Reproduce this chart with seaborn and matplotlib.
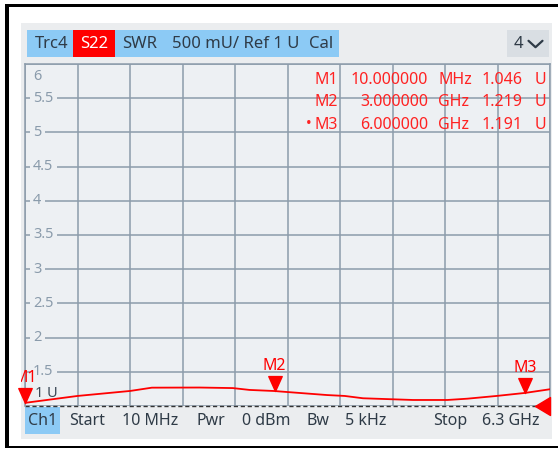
import matplotlib.pyplot as plt
import seaborn as sns
from matplotlib.patches import Rectangle
from matplotlib.path import Path

# trace S22 (SWR)
freq_ghz = [0.01, 0.64, 1.27, 1.53, 2.10, 2.50, 2.70, 3.00, 3.07, 3.63, 3.84,
            4.06, 4.66, 5.07, 5.31, 5.66, 6.00, 6.30]
swr = [1.046, 1.147, 1.22, 1.268, 1.27, 1.262, 1.235, 1.219, 1.212, 1.16, 1.147,
       1.113, 1.088, 1.088, 1.107, 1.147, 1.191, 1.245]

marker_names = ["M1", "M2", "M3"]
marker_freq = [0.01, 3.0, 6.0]
marker_swr = [1.046, 1.219, 1.191]
marker_freq_text = ["10.000000", "3.000000", "6.000000"]
marker_unit = ["MHz", "GHz", "GHz"]
marker_swr_text = ["1.046", "1.219", "1.191"]

y_ticks = [1.5, 2, 2.5, 3, 3.5, 4, 4.5, 5, 5.5]
y_tick_labels = ["1.5", "2", "2.5", "3", "3.5", "4", "4.5", "5", "5.5"]
x_start, x_stop = 0.01, 6.3
ref_level, top_level = 1.0, 6.0

header_items = [("Trc4", 35), ("SWR", 122), ("500 mU/ Ref 1 U", 172), ("Cal", 309)]
footer_items = [("Start", 69), ("10 MHz", 122), ("Pwr", 197), ("0 dBm", 242),
                ("Bw", 307), ("5 kHz", 345), ("Stop", 433), ("6.3 GHz", 482)]

RED = "#ff0000"
TXT = "#2f3b47"
GRID = "#8c9cab"
BLUE = "#8ccaf5"
PLOT_BG = "#edf0f3"
PANEL_BG = "#ebedef"

sns.set_theme(style="white")
plt.rcParams["font.family"] = ["Noto Sans", "DejaVu Sans"]

W, H = 558, 449
fig = plt.figure(figsize=(W / 100, H / 100), dpi=100)


def px_rect(left, top, right, bottom):
    return [left / W, 1 - bottom / H, (right - left) / W, (bottom - top) / H]


# background layer in pixel coordinates
bg = fig.add_axes([0, 0, 1, 1], zorder=0)
bg.set_xlim(0, W)
bg.set_ylim(H, 0)
bg.axis("off")
bg.add_patch(Rectangle((0, 0), W, H, fc="white", ec="none"))
bg.add_patch(Rectangle((5, 4), W - 5, 2.7, fc="black", ec="none"))
bg.add_patch(Rectangle((5, 4), 4, 444, fc="black", ec="none"))
bg.add_patch(Rectangle((5, 445.5), W - 5, 2.7, fc="black", ec="none"))
panel = Rectangle((21, 23), 531, 416, fc=PANEL_BG, ec="none")
bg.add_patch(panel)

# header bar
bg.add_patch(Rectangle((27, 30), 312, 27, fc=BLUE, ec="none"))
bg.add_patch(Rectangle((73, 30), 41.5, 27, fc=RED, ec="none"))
bg.add_patch(Rectangle((507, 30), 42, 27, fc="#d9dee3", ec="none"))
bg.add_patch(Rectangle((25, 407), 35, 27, fc=BLUE, ec="none"))

# diagram
ax = fig.add_axes(px_rect(25, 64, 550, 406), zorder=1)
ax.set_facecolor(PLOT_BG)
sns.lineplot(x=freq_ghz, y=swr, ax=ax, color=RED, lw=1.3, zorder=3)
ax.set_xlim(x_start, x_stop)
ax.set_ylim(ref_level, top_level)
ax.set_xticks([x_start + i * (x_stop - x_start) / 10 for i in range(11)])
ax.set_yticks([ref_level] + y_ticks + [top_level])
ax.tick_params(length=0, labelbottom=False, labelleft=False)
ax.grid(True, color=GRID, lw=1.1)
for side in ["top", "left", "right"]:
    ax.spines[side].set_color(GRID)
    ax.spines[side].set_linewidth(1.1)
ax.spines["bottom"].set_visible(False)
ax.axhline(ref_level, color="#333333", lw=1.0, ls=(0, (3, 2)), zorder=2, clip_on=False)

for v, lab in zip(y_ticks, y_tick_labels):
    ax.text(0.0155, v, lab, transform=ax.get_yaxis_transform(), fontsize=10.5,
            color="#8a9bab", va="center", ha="left", zorder=4,
            bbox=dict(boxstyle="square,pad=0.22", fc=PLOT_BG, ec="none"))
ax.annotate("6", xy=(0.0155, top_level), xycoords=ax.get_yaxis_transform(),
            xytext=(0, -9), textcoords="offset points", fontsize=10.5,
            color="#8a9bab", va="center", ha="left")
ax.annotate("1 U", xy=(0.019, ref_level), xycoords=ax.get_yaxis_transform(),
            xytext=(0, 9.3), textcoords="offset points", fontsize=10.5,
            color="#3d4a57", va="center", ha="left")

# marker triangles: tip sits on the trace
tri_down = Path([(-0.45, 1.0), (0.45, 1.0), (0.0, 0.0), (-0.45, 1.0)],
                [Path.MOVETO, Path.LINETO, Path.LINETO, Path.CLOSEPOLY])
ax.plot(marker_freq, marker_swr, ls="none", marker=tri_down, ms=21.5,
        color=RED, mec=RED, clip_on=False, zorder=5)
for name, f, v in zip(marker_names, marker_freq, marker_swr):
    t = ax.annotate(name, xy=(f, v), xytext=(0, 18.2), textcoords="offset points",
                    ha="center", va="center", fontsize=11.5, color=RED,
                    fontweight="bold" if name == "M3" else "normal",
                    annotation_clip=False, zorder=6)
    t.set_clip_path(panel)

# reference level arrow at the right edge
tri_left = Path([(0.0, -0.6), (0.0, 0.6), (-1.0, 0.0), (0.0, -0.6)],
                [Path.MOVETO, Path.LINETO, Path.LINETO, Path.CLOSEPOLY])
ax.plot([x_stop], [ref_level], ls="none", marker=tri_left, ms=21.6,
        color=RED, mec=RED, clip_on=False, zorder=5)

# overlay for text in pixel coordinates
top = fig.add_axes([0, 0, 1, 1], zorder=2)
top.set_xlim(0, W)
top.set_ylim(H, 0)
top.axis("off")
top.patch.set_visible(False)

for lab, x in header_items:
    top.text(x, 44, lab, fontsize=12, color=TXT, ha="left", va="center")
top.text(94, 44, "S22", fontsize=12, color="white", ha="center", va="center")
top.text(518.5, 44, "4", fontsize=12, color=TXT, ha="center", va="center")
top.plot([528.5, 535.5, 542.5], [40.8, 47.2, 40.8], color=TXT, lw=1.6,
         solid_capstyle="round", solid_joinstyle="round")

top.text(42.5, 421, "Ch1", fontsize=11.5, color=TXT, ha="center", va="center")
for lab, x in footer_items:
    top.text(x, 421, lab, fontsize=11.5, color=TXT, ha="left", va="center")

# marker table
for i, name in enumerate(marker_names):
    y = 80 + i * 22.5
    kw = dict(fontsize=11.5, color="#ff2222", va="center")
    top.text(338, y, name, ha="right", **kw)
    top.text(428, y, marker_freq_text[i], ha="right", **kw)
    top.text(438, y, marker_unit[i], ha="left", **kw)
    top.text(523, y, marker_swr_text[i], ha="right", **kw)
    top.text(535, y, "U", ha="left", **kw)
top.text(309, 80 + 2 * 22.5, "\u2022", fontsize=11, color="#ff2222", ha="center", va="center")

fig.savefig("out.png", dpi=100)
